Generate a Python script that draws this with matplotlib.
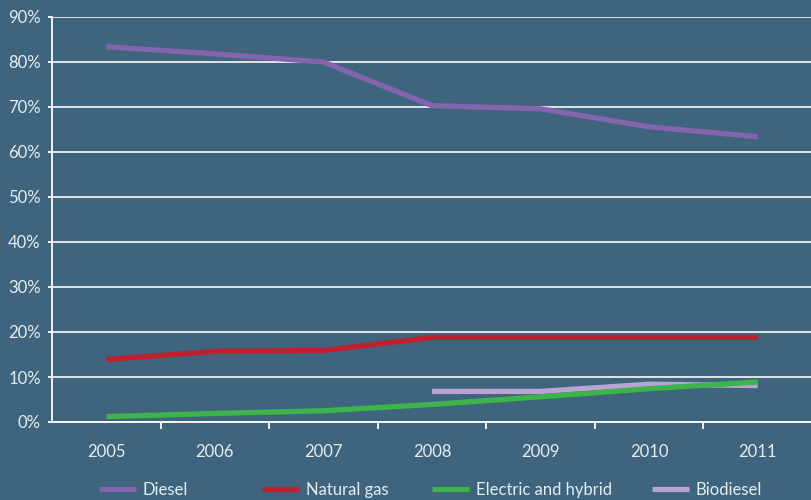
import matplotlib
matplotlib.use("Agg")
import matplotlib.pyplot as plt

years = [2005, 2006, 2007, 2008, 2009, 2010, 2011]
diesel = [83.4, 81.8, 80.0, 70.3, 69.6, 65.6, 63.4]
natural_gas = [13.9, 15.7, 15.9, 18.8, 18.8, 18.8, 18.8]
electric_hybrid = [1.2, 1.9, 2.5, 3.9, 5.6, 7.4, 8.9]
bio_years = [2008, 2009, 2010, 2011]
biodiesel = [6.8, 6.8, 8.4, 8.1]
yticks = [0, 10, 20, 30, 40, 50, 60, 70, 80, 90]
ytick_labels = [f"{v}%" for v in yticks]

BG = "#3e657d"
TXT = "#e6edf1"
C_DIESEL = "#8464ad"
C_GAS = "#c01f2f"
C_ELEC = "#3cb44a"
C_BIO = "#b9a3d3"

plt.rcParams['font.family'] = ['Lato', 'DejaVu Sans']

fig = plt.figure(figsize=(8.12, 5.0), dpi=100, facecolor=BG)
ax = fig.add_axes([52/812, 1-422/500, 1-52/812, (422-17)/500])
ax.set_facecolor(BG)

lw = 3.8
l1, = ax.plot(years, diesel, color=C_DIESEL, lw=lw, solid_capstyle='butt', zorder=3)
l2, = ax.plot(years, natural_gas, color=C_GAS, lw=lw, solid_capstyle='butt', zorder=3)
l3, = ax.plot(years, electric_hybrid, color=C_ELEC, lw=lw, solid_capstyle='butt', zorder=4)
l4, = ax.plot(bio_years, biodiesel, color=C_BIO, lw=lw, solid_capstyle='butt', zorder=3)

ax.set_xlim(2004.5, 2011.5)
ax.set_ylim(0, 90)
ax.set_yticks(yticks)
ax.set_yticklabels(ytick_labels)
ax.grid(axis='y', color='white', lw=1.3, alpha=0.9)
ax.set_axisbelow(True)

ax.set_xticks(years)
ax.set_xticklabels([str(y) for y in years])
ax.set_xticks([y + 0.5 for y in years[:-1]], minor=True)
ax.tick_params(axis='x', which='major', length=0, pad=16, labelsize=12, labelcolor=TXT)
ax.tick_params(axis='x', which='minor', length=5, width=1.3, color='white', direction='out')
ax.tick_params(axis='y', length=3, width=1.3, color='white', pad=5, labelsize=12, labelcolor=TXT)

for s in ['top', 'right']:
    ax.spines[s].set_visible(False)
for s in ['left', 'bottom']:
    ax.spines[s].set_color('white')
    ax.spines[s].set_linewidth(1.3)

entries = [(l1, "Diesel", 99), (l2, "Natural gas", 262), (l3, "Electric and hybrid", 432), (l4, "Biodiesel", 652)]
for h, lab, xpx in entries:
    fig.legend([h], [lab], loc='center left',
               bbox_to_anchor=(xpx / 812, 1 - 490 / 500),
               frameon=False, handlelength=2.2, handletextpad=0.42,
               borderpad=0, borderaxespad=0, fontsize=12, labelcolor=TXT)

fig.savefig("out.png", dpi=100, facecolor=BG)
